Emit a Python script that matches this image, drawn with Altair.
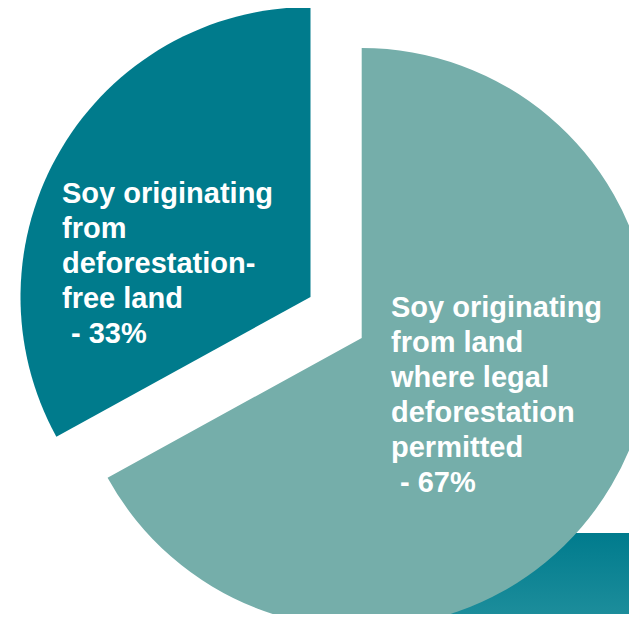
import altair as alt
import pandas as pd

# Data
categories = [
    "Soy originating from land where legal deforestation permitted",
    "Soy originating from deforestation-free land",
]
shares = [67, 33]
slice_order = [0, 1]
labels = [
    "Soy originating\nfrom land\nwhere legal\ndeforestation\npermitted",
    "Soy originating\nfrom\ndeforestation-\nfree land",
]
pct_labels = ["- 67%", "- 33%"]

LIGHT = "#75AEAA"
DARK = "#007B8C"
FONT = "Liberation Sans"

df = pd.DataFrame({"category": categories, "share": shares, "order": slice_order,
                   "label": labels, "pct": pct_labels})

base = (
    alt.Chart(df)
    .transform_joinaggregate(total="sum(share)")
    .transform_window(cum="sum(share)", sort=[alt.SortField("order")], frame=[None, 0])
    .transform_calculate(
        t0="(datum.cum - datum.share) / datum.total * 2 * PI",
        t1="datum.cum / datum.total * 2 * PI",
    )
)

color_enc = alt.Color("category:N", scale=alt.Scale(domain=categories, range=[LIGHT, DARK]), legend=None)

big = base.transform_filter("datum.order == 0").mark_arc(radius=290, clip=True).encode(
    theta=alt.Theta("t0:Q", scale=None), theta2="t1:Q",
    x=alt.value(353.7), y=alt.value(330), color=color_enc,
)
small = base.transform_filter("datum.order == 1").mark_arc(radius=290, clip=True).encode(
    theta=alt.Theta("t0:Q", scale=None), theta2="t1:Q",
    x=alt.value(302.5), y=alt.value(289), color=color_enc,
)

text_style = dict(align="left", baseline="alphabetic", font=FONT, fontSize=29, fontWeight="bold",
                  color="white", lineBreak="\n", lineHeight=35)
big_text = base.transform_filter("datum.order == 0").mark_text(**text_style).encode(
    text="label:N", x=alt.value(383), y=alt.value(309))
big_pct = base.transform_filter("datum.order == 0").mark_text(**text_style).encode(
    text="pct:N", x=alt.value(392), y=alt.value(309 + 5 * 35))
small_text = base.transform_filter("datum.order == 1").mark_text(**text_style).encode(
    text="label:N", x=alt.value(54), y=alt.value(195))
small_pct = base.transform_filter("datum.order == 1").mark_text(**text_style).encode(
    text="pct:N", x=alt.value(63), y=alt.value(195 + 4 * 35))

deco = pd.DataFrame({"k": [0]})
gradient = alt.LinearGradient(
    gradient="linear",
    stops=[alt.GradientStop(color="#007B8D", offset=0), alt.GradientStop(color="#1C8D9B", offset=1)],
    x1=0, x2=0, y1=0, y2=1,
)
band = alt.Chart(deco).mark_rect(color=gradient, clip=True).encode(
    x=alt.value(295), x2=alt.value(621), y=alt.value(525), y2=alt.value(606))

chart = (
    alt.layer(band, big, small, big_text, big_pct, small_text, small_pct)
    .properties(width=621, height=606, padding=0, autosize=alt.AutoSizeParams(type="none"))
    .configure_view(stroke=None)
)

chart.save("out.html", embed_options={"renderer": "svg", "actions": False})
